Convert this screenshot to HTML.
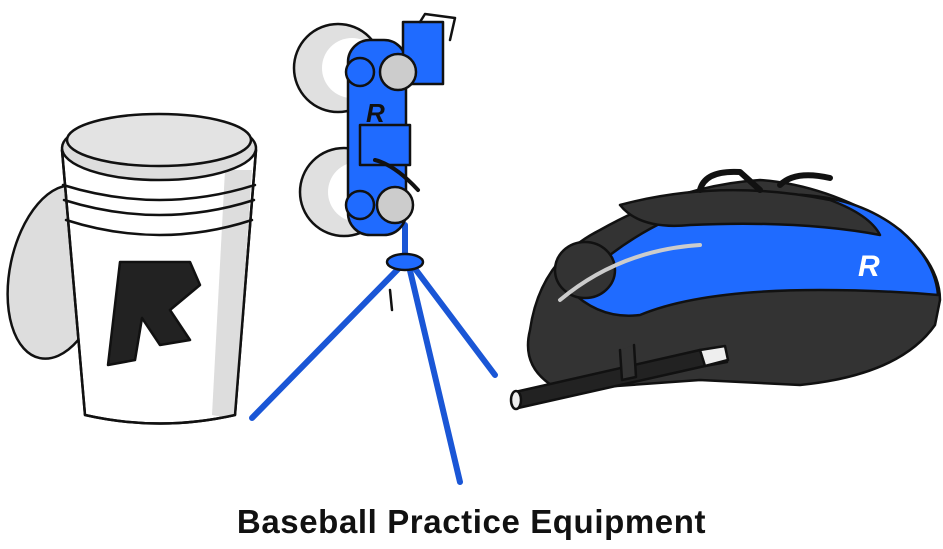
<!DOCTYPE html>
<html><head><style>
body{margin:0;background:#fff;width:943px;height:549px;overflow:hidden}
.t{position:absolute;left:0;width:943px;top:503px;text-align:center;font:bold 33px "Liberation Sans",sans-serif;color:#111;letter-spacing:0.6px}
</style></head><body>
<svg width="943" height="549" style="position:absolute;left:0;top:0" stroke="#111" stroke-width="2.5" stroke-linejoin="round" stroke-linecap="round">
<ellipse cx="58" cy="272" rx="48" ry="88" fill="#ddd" transform="rotate(12 58 272)"/>
<path d="M62 150 L85 415 Q160 432 235 415 L256 150 Z" fill="#fff"/>
<path d="M225 170 L212 415 Q225 418 235 415 L252 170 Z" fill="#ddd" stroke="none"/>
<path d="M62 150 L85 415 Q160 432 235 415 L256 150" fill="none"/>
<path d="M63 185 Q160 215 255 185" fill="none"/>
<path d="M64 200 Q160 230 254 200" fill="none"/>
<path d="M66 220 Q160 250 252 220" fill="none"/>
<ellipse cx="159" cy="148" rx="97" ry="32" fill="#ddd"/>
<ellipse cx="159" cy="140" rx="92" ry="26" fill="#e3e3e3"/>
<path d="M120 262 L190 262 L200 285 L170 310 L190 340 L160 345 L142 318 L135 360 L108 365 Z" fill="#222" stroke="#111"/>
<circle cx="338" cy="68" r="44" fill="#e0e0e0"/>
<circle cx="352" cy="68" r="30" fill="#fff" stroke="none"/>
<circle cx="344" cy="192" r="44" fill="#e0e0e0"/>
<circle cx="358" cy="192" r="30" fill="#fff" stroke="none"/>
<g stroke="#1a56d6" stroke-width="6">
<line x1="405" y1="262" x2="252" y2="418"/>
<line x1="408" y1="262" x2="460" y2="482"/>
<line x1="410" y1="262" x2="495" y2="375"/>
<line x1="405" y1="225" x2="405" y2="262"/>
</g>
<ellipse cx="405" cy="262" rx="18" ry="8" fill="#1f6bff"/>
<line x1="390" y1="290" x2="392" y2="310"/>
<rect x="348" y="40" width="58" height="195" rx="22" fill="#1f6bff"/>
<rect x="403" y="22" width="40" height="62" fill="#1f6bff"/>
<path d="M420 22 L425 14 L455 18 L450 40" fill="none" stroke="#111"/>
<rect x="360" y="125" width="50" height="40" fill="#1f6bff"/>
<circle cx="398" cy="72" r="18" fill="#ccc"/>
<circle cx="395" cy="205" r="18" fill="#ccc"/>
<circle cx="360" cy="72" r="14" fill="#1f6bff"/>
<circle cx="360" cy="205" r="14" fill="#1f6bff"/>
<text x="366" y="122" font-family="Liberation Sans" font-weight="bold" font-style="italic" font-size="26" fill="#111" stroke="none">R</text>
<path d="M375 160 Q395 165 418 190" fill="none" stroke-width="4"/>
<path d="M530 330 Q540 260 600 230 Q680 185 760 180 Q830 185 900 230 Q940 265 940 300 L935 325 Q900 375 800 385 L700 380 L560 390 Q520 370 530 330 Z" fill="#333"/>
<path d="M570 290 Q660 200 770 195 Q850 190 900 230 Q935 260 938 295 Q880 290 820 290 Q700 290 640 315 Q600 320 570 290Z" fill="#1f6bff"/>
<path d="M620 205 Q720 178 830 200 Q870 215 880 235 Q800 220 690 225 Q640 230 620 205Z" fill="#333"/>
<ellipse cx="585" cy="270" rx="30" ry="28" fill="#333"/>
<path d="M560 300 Q620 250 700 245" fill="none" stroke="#ccc" stroke-width="4"/>
<path d="M700 190 Q705 170 740 172 L760 190" fill="none" stroke-width="6"/>
<path d="M780 185 Q795 170 830 178" fill="none" stroke-width="6"/>
<text x="858" y="276" font-family="Liberation Sans" font-weight="bold" font-style="italic" font-size="30" fill="#fff" stroke="none">R</text>
<path d="M515 392 L700 350 L725 348 L727 362 L705 366 L518 408 Z" fill="#222"/>
<path d="M700 350 L725 346 L728 360 L705 366 Z" fill="#eee"/>
<ellipse cx="516" cy="400" rx="5" ry="9" fill="#eee"/>
<path d="M620 350 L622 380 L636 377 L634 345" fill="#333"/>
</svg>
<div class="t">Baseball Practice Equipment</div>
</body></html>
